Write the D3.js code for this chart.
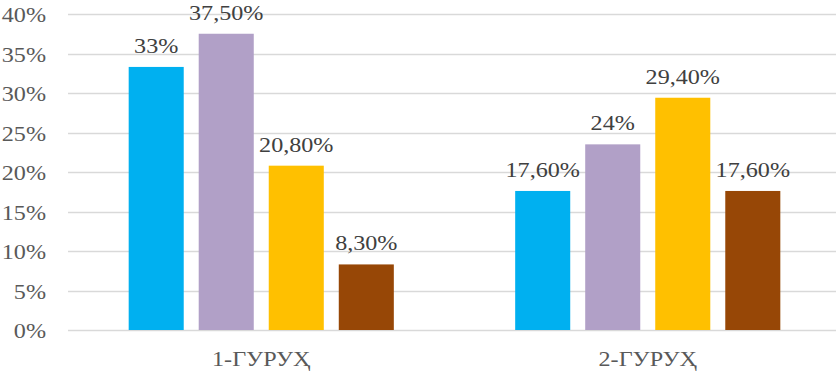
<!DOCTYPE html>
<html>
<head>
<meta charset="utf-8">
<script src="https://cdn.jsdelivr.net/npm/d3@7"></script>
<style>
  body { margin: 0; background: #fff; }
  text { font-family: "Liberation Serif", "Times New Roman", serif; }
</style>
</head>
<body>
<div id="chart"></div>
<script>
const groups = ["1-ГУРУҲ", "2-ГУРУҲ"]
const series = ["s1", "s2", "s3", "s4"]
// bar heights
const values = [
  [33.3, 37.5, 20.8, 8.3],
  [17.6, 23.5, 29.4, 17.6]
]
// data labels as printed on the chart
const labels = [
  ["33%", "37,50%", "20,80%", "8,30%"],
  ["17,60%", "24%", "29,40%", "17,60%"]
]
const yTicks = [0, 5, 10, 15, 20, 25, 30, 35, 40]
const colors = ["#00B0F0", "#B1A0C7", "#FFC000", "#974706"]

const width = 840
const height = 374
const stretch = 1.15

const svg = d3.select("#chart")
  .append("svg")
  .attr("width", width)
  .attr("height", height)

const y = d3.scaleLinear()
  .domain([0, 40])
  .range([330, 14])

const x0 = d3.scaleBand()
  .domain(groups)
  .range([68, 841])
  .paddingInner(0.314)
  .paddingOuter(0.157)

const x1 = d3.scaleBand()
  .domain(series)
  .range([0, x0.bandwidth()])
  .paddingInner(0.214)

const color = d3.scaleOrdinal()
  .domain(series)
  .range(colors)

// gridlines
svg.selectAll("line.grid")
  .data(yTicks)
  .join("line")
  .attr("class", "grid")
  .attr("x1", 68)
  .attr("x2", 836)
  .attr("y1", d => Math.round(y(d)) + 0.5)
  .attr("y2", d => Math.round(y(d)) + 0.5)
  .attr("stroke", "#d9d9d9")
  .attr("stroke-width", 1.5)

// y tick labels
svg.selectAll("text.ytick")
  .data(yTicks)
  .join("text")
  .attr("class", "ytick")
  .attr("transform", d => `translate(46, ${y(d) + 8}) scale(${stretch},1)`)
  .attr("text-anchor", "end")
  .style("font-size", "21px")
  .style("fill", "#595959")
  .text(d => d + "%")

const rows = groups.map((g, i) => ({
  group: g,
  bars: series.map((s, j) => ({ group: g, key: s, value: values[i][j], label: labels[i][j] }))
}))

const gSel = svg.selectAll("g.group")
  .data(rows)
  .join("g")
  .attr("class", "group")
  .attr("transform", d => `translate(${x0(d.group)}, 0)`)

gSel.selectAll("rect")
  .data(d => d.bars)
  .join("rect")
  .attr("x", d => x1(d.key))
  .attr("y", d => y(d.value))
  .attr("width", x1.bandwidth())
  .attr("height", d => y(0) - y(d.value))
  .attr("fill", d => color(d.key))

// value labels
gSel.selectAll("text.val")
  .data(d => d.bars)
  .join("text")
  .attr("class", "val")
  .attr("transform", d => `translate(${x1(d.key) + x1.bandwidth() / 2}, ${y(d.value) - 14}) scale(${stretch},1)`)
  .attr("text-anchor", "middle")
  .style("font-size", "21px")
  .style("fill", "#404040")
  .text(d => d.label)

// category labels
svg.selectAll("text.cat")
  .data(groups)
  .join("text")
  .attr("class", "cat")
  .attr("transform", d => `translate(${x0(d) + x0.bandwidth() / 2}, 366) scale(${stretch},1)`)
  .attr("text-anchor", "middle")
  .style("font-size", "21px")
  .style("fill", "#595959")
  .text(d => d)
</script>
</body>
</html>
